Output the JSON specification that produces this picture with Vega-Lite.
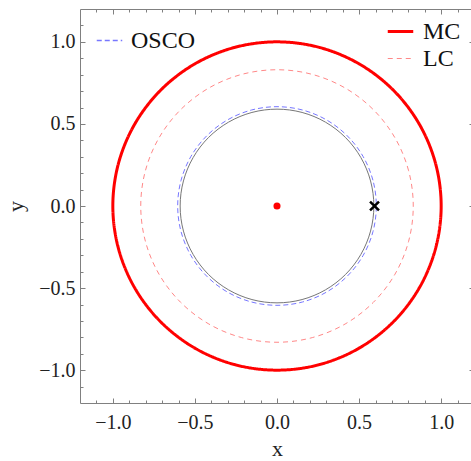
{
  "$schema": "https://vega.github.io/schema/vega-lite/v6.json",
  "autosize": "none",
  "width": 394,
  "height": 394,
  "padding": {"left": 80, "top": 9, "right": 0, "bottom": 58},
  "background": "white",
  "config": {
    "view": {"stroke": "#808080", "strokeWidth": 1},
    "font": "Liberation Serif",
    "axis": {"grid": false, "domain": false, "tickColor": "#808080", "tickWidth": 1, "labelFont": "Liberation Serif", "titleFont": "Liberation Serif", "labelColor": "#222222", "titleColor": "#222222", "titleFontWeight": "normal"},
    "legend": {"labelFont": "Liberation Serif", "labelFontSize": 24, "labelColor": "#111111", "padding": 0, "symbolSize": 650, "labelOffset": 8, "rowPadding": 1}
  },
  "datasets": {
    "mclc": [
      {"s":"MC","i":0,"x":1,"y":0},{"s":"MC","i":1,"x":0.9659,"y":0.2588},{"s":"MC","i":2,"x":0.866,"y":0.5},{"s":"MC","i":3,"x":0.7071,"y":0.7071},{"s":"MC","i":4,"x":0.5,"y":0.866},{"s":"MC","i":5,"x":0.2588,"y":0.9659},{"s":"MC","i":6,"x":0,"y":1},{"s":"MC","i":7,"x":-0.2588,"y":0.9659},{"s":"MC","i":8,"x":-0.5,"y":0.866},{"s":"MC","i":9,"x":-0.7071,"y":0.7071},{"s":"MC","i":10,"x":-0.866,"y":0.5},{"s":"MC","i":11,"x":-0.9659,"y":0.2588},{"s":"MC","i":12,"x":-1,"y":0},{"s":"MC","i":13,"x":-0.9659,"y":-0.2588},{"s":"MC","i":14,"x":-0.866,"y":-0.5},{"s":"MC","i":15,"x":-0.7071,"y":-0.7071},{"s":"MC","i":16,"x":-0.5,"y":-0.866},{"s":"MC","i":17,"x":-0.2588,"y":-0.9659},{"s":"MC","i":18,"x":0,"y":-1},{"s":"MC","i":19,"x":0.2588,"y":-0.9659},{"s":"MC","i":20,"x":0.5,"y":-0.866},{"s":"MC","i":21,"x":0.7071,"y":-0.7071},{"s":"MC","i":22,"x":0.866,"y":-0.5},{"s":"MC","i":23,"x":0.9659,"y":-0.2588},
      {"s":"LC","i":0,"x":0.83,"y":0},{"s":"LC","i":1,"x":0.8017,"y":0.2148},{"s":"LC","i":2,"x":0.7188,"y":0.415},{"s":"LC","i":3,"x":0.5869,"y":0.5869},{"s":"LC","i":4,"x":0.415,"y":0.7188},{"s":"LC","i":5,"x":0.2148,"y":0.8017},{"s":"LC","i":6,"x":0,"y":0.83},{"s":"LC","i":7,"x":-0.2148,"y":0.8017},{"s":"LC","i":8,"x":-0.415,"y":0.7188},{"s":"LC","i":9,"x":-0.5869,"y":0.5869},{"s":"LC","i":10,"x":-0.7188,"y":0.415},{"s":"LC","i":11,"x":-0.8017,"y":0.2148},{"s":"LC","i":12,"x":-0.83,"y":0},{"s":"LC","i":13,"x":-0.8017,"y":-0.2148},{"s":"LC","i":14,"x":-0.7188,"y":-0.415},{"s":"LC","i":15,"x":-0.5869,"y":-0.5869},{"s":"LC","i":16,"x":-0.415,"y":-0.7188},{"s":"LC","i":17,"x":-0.2148,"y":-0.8017},{"s":"LC","i":18,"x":0,"y":-0.83},{"s":"LC","i":19,"x":0.2148,"y":-0.8017},{"s":"LC","i":20,"x":0.415,"y":-0.7188},{"s":"LC","i":21,"x":0.5869,"y":-0.5869},{"s":"LC","i":22,"x":0.7188,"y":-0.415},{"s":"LC","i":23,"x":0.8017,"y":-0.2148}
    ],
    "osco": [
      {"s":"OSCO","i":0,"x":0.605,"y":0},{"s":"OSCO","i":1,"x":0.5844,"y":0.1566},{"s":"OSCO","i":2,"x":0.5239,"y":0.3025},{"s":"OSCO","i":3,"x":0.4278,"y":0.4278},{"s":"OSCO","i":4,"x":0.3025,"y":0.5239},{"s":"OSCO","i":5,"x":0.1566,"y":0.5844},{"s":"OSCO","i":6,"x":0,"y":0.605},{"s":"OSCO","i":7,"x":-0.1566,"y":0.5844},{"s":"OSCO","i":8,"x":-0.3025,"y":0.5239},{"s":"OSCO","i":9,"x":-0.4278,"y":0.4278},{"s":"OSCO","i":10,"x":-0.5239,"y":0.3025},{"s":"OSCO","i":11,"x":-0.5844,"y":0.1566},{"s":"OSCO","i":12,"x":-0.605,"y":0},{"s":"OSCO","i":13,"x":-0.5844,"y":-0.1566},{"s":"OSCO","i":14,"x":-0.5239,"y":-0.3025},{"s":"OSCO","i":15,"x":-0.4278,"y":-0.4278},{"s":"OSCO","i":16,"x":-0.3025,"y":-0.5239},{"s":"OSCO","i":17,"x":-0.1566,"y":-0.5844},{"s":"OSCO","i":18,"x":0,"y":-0.605},{"s":"OSCO","i":19,"x":0.1566,"y":-0.5844},{"s":"OSCO","i":20,"x":0.3025,"y":-0.5239},{"s":"OSCO","i":21,"x":0.4278,"y":-0.4278},{"s":"OSCO","i":22,"x":0.5239,"y":-0.3025},{"s":"OSCO","i":23,"x":0.5844,"y":-0.1566}
    ],
    "orbit": [
      {"i":0,"x":0.59,"y":0},{"i":1,"x":0.5699,"y":0.1527},{"i":2,"x":0.5109,"y":0.295},{"i":3,"x":0.4172,"y":0.4172},{"i":4,"x":0.295,"y":0.5109},{"i":5,"x":0.1527,"y":0.5699},{"i":6,"x":0,"y":0.59},{"i":7,"x":-0.1527,"y":0.5699},{"i":8,"x":-0.295,"y":0.5109},{"i":9,"x":-0.4172,"y":0.4172},{"i":10,"x":-0.5109,"y":0.295},{"i":11,"x":-0.5699,"y":0.1527},{"i":12,"x":-0.59,"y":0},{"i":13,"x":-0.5699,"y":-0.1527},{"i":14,"x":-0.5109,"y":-0.295},{"i":15,"x":-0.4172,"y":-0.4172},{"i":16,"x":-0.295,"y":-0.5109},{"i":17,"x":-0.1527,"y":-0.5699},{"i":18,"x":0,"y":-0.59},{"i":19,"x":0.1527,"y":-0.5699},{"i":20,"x":0.295,"y":-0.5109},{"i":21,"x":0.4172,"y":-0.4172},{"i":22,"x":0.5109,"y":-0.295},{"i":23,"x":0.5699,"y":-0.1527}
    ],
    "dot": [{"x":0,"y":0}],
    "star": [{"x":0.594,"y":0}]
  },
  "layer": [
    {
      "data": {"name": "mclc"},
      "mark": {"type": "line", "interpolate": "cardinal-closed"},
      "encoding": {
        "x": {"field": "x", "type": "quantitative", "scale": {"domain": [-1.2, 1.2], "nice": false, "zero": false},
              "axis": {"orient": "bottom", "values": [-1, -0.5, 0, 0.5, 1], "format": ".1f", "ticks": false, "labelPadding": 9, "labelFontSize": 20, "title": "x", "titleFontSize": 22, "titlePadding": 6}},
        "y": {"field": "y", "type": "quantitative", "scale": {"domain": [-1.2, 1.2], "nice": false, "zero": false},
              "axis": {"orient": "left", "values": [-1, -0.5, 0, 0.5, 1], "format": ".1f", "ticks": false, "labelPadding": 5, "labelFontSize": 20, "title": "y", "titleFontSize": 22, "titlePadding": 11}},
        "order": {"field": "i", "type": "quantitative"},
        "color": {"field": "s", "type": "nominal", "scale": {"domain": ["MC", "LC"], "range": ["#ff0000", "#ff8888"]},
                  "legend": {"title": null, "orient": "none", "legendX": 306, "legendY": 8}},
        "strokeDash": {"field": "s", "type": "nominal", "scale": {"domain": ["MC", "LC"], "range": [[1, 0], [5, 4]]},
                  "legend": {"title": null, "orient": "none", "legendX": 306, "legendY": 8}},
        "strokeWidth": {"field": "s", "type": "nominal", "scale": {"domain": ["MC", "LC"], "range": [3, 1]},
                  "legend": {"title": null, "orient": "none", "legendX": 306, "legendY": 8}}
      }
    },
    {
      "data": {"name": "osco"},
      "mark": {"type": "line", "interpolate": "cardinal-closed", "strokeWidth": 1},
      "encoding": {
        "x": {"field": "x", "type": "quantitative", "axis": {"orient": "bottom", "values": [-1, -0.5, 0, 0.5, 1], "labels": false, "tickSize": -5, "title": null}},
        "y": {"field": "y", "type": "quantitative", "axis": {"orient": "left", "values": [-1, -0.5, 0, 0.5, 1], "labels": false, "tickSize": -5, "title": null}},
        "order": {"field": "i", "type": "quantitative"},
        "color": {"field": "s", "type": "nominal", "scale": {"domain": ["OSCO"], "range": ["#7777ff"]},
                  "legend": {"title": null, "orient": "none", "legendX": 16, "legendY": 18}},
        "strokeDash": {"field": "s", "type": "nominal", "scale": {"domain": ["OSCO"], "range": [[5, 3]]},
                  "legend": {"title": null, "orient": "none", "legendX": 16, "legendY": 18}}
      }
    },
    {
      "data": {"name": "orbit"},
      "mark": {"type": "line", "interpolate": "cardinal-closed", "strokeWidth": 1, "color": "#777777"},
      "encoding": {
        "x": {"field": "x", "type": "quantitative", "axis": {"orient": "bottom", "values": [-1.1, -0.9, -0.8, -0.7, -0.6, -0.4, -0.3, -0.2, -0.1, 0.1, 0.2, 0.3, 0.4, 0.6, 0.7, 0.8, 0.9, 1.1], "labels": false, "tickSize": -3, "title": null}},
        "y": {"field": "y", "type": "quantitative", "axis": {"orient": "left", "values": [-1.1, -0.9, -0.8, -0.7, -0.6, -0.4, -0.3, -0.2, -0.1, 0.1, 0.2, 0.3, 0.4, 0.6, 0.7, 0.8, 0.9, 1.1], "labels": false, "tickSize": -3, "title": null}},
        "order": {"field": "i", "type": "quantitative"}
      }
    },
    {
      "data": {"name": "dot"},
      "mark": {"type": "point", "shape": "circle", "filled": true, "color": "#ff0000", "size": 50, "opacity": 1},
      "encoding": {
        "x": {"field": "x", "type": "quantitative", "axis": {"orient": "top", "values": [-1, -0.5, 0, 0.5, 1], "labels": false, "tickSize": -5, "title": null}},
        "y": {"field": "y", "type": "quantitative", "axis": {"orient": "right", "values": [-1, -0.5, 0, 0.5, 1], "labels": false, "tickSize": -5, "title": null}}
      }
    },
    {
      "data": {"name": "star"},
      "mark": {"type": "point", "shape": "M-1,-1L1,1M-1,1L1,-1", "filled": false, "color": "#000000", "strokeWidth": 2.5, "size": 80, "opacity": 1},
      "encoding": {
        "x": {"field": "x", "type": "quantitative", "axis": {"orient": "top", "values": [-1.1, -0.9, -0.8, -0.7, -0.6, -0.4, -0.3, -0.2, -0.1, 0.1, 0.2, 0.3, 0.4, 0.6, 0.7, 0.8, 0.9, 1.1], "labels": false, "tickSize": -3, "title": null}},
        "y": {"field": "y", "type": "quantitative", "axis": {"orient": "right", "values": [-1.1, -0.9, -0.8, -0.7, -0.6, -0.4, -0.3, -0.2, -0.1, 0.1, 0.2, 0.3, 0.4, 0.6, 0.7, 0.8, 0.9, 1.1], "labels": false, "tickSize": -3, "title": null}}
      }
    }
  ],
  "resolve": {
    "scale": {"color": "independent", "strokeDash": "independent", "strokeWidth": "independent"},
    "axis": {"x": "independent", "y": "independent"}
  }
}
